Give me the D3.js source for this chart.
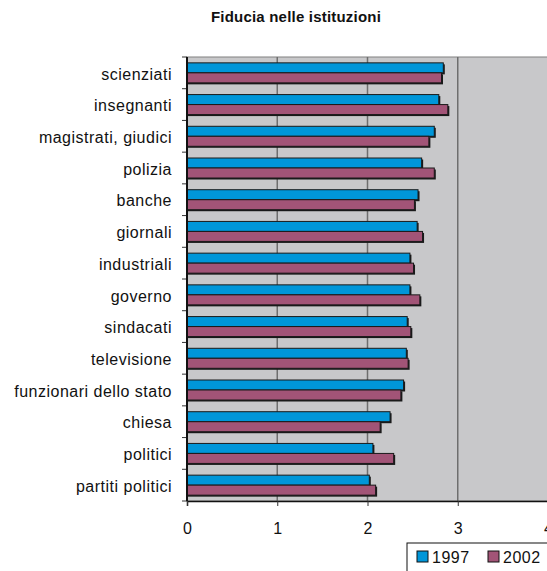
<!DOCTYPE html>
<html>
<head>
<meta charset="utf-8">
<script src="https://cdn.jsdelivr.net/npm/d3@7"></script>
<style>
  body { margin: 0; background: #fff; }
  text { font-family: "Liberation Sans", Arial, sans-serif; fill: #111; }
</style>
</head>
<body>
<script>
var categories = ['scienziati', 'insegnanti', 'magistrati, giudici', 'polizia', 'banche', 'giornali',
  'industriali ', 'governo', 'sindacati', 'televisione', 'funzionari dello stato', 'chiesa',
  'politici', 'partiti politici'];
var series = ['1997', '2002'];
var values1997 = [2.84, 2.79, 2.74, 2.60, 2.56, 2.55, 2.47, 2.47, 2.44, 2.43, 2.40, 2.25, 2.06, 2.02];
var values2002 = [2.82, 2.89, 2.68, 2.74, 2.52, 2.61, 2.51, 2.58, 2.48, 2.45, 2.37, 2.14, 2.29, 2.09];
var xTicks = [0, 1, 2, 3, 4];
var colors = ['#0096d9', '#a25477'];

var W = 547, H = 571;
var margin = { top: 57, right: -1, bottom: 70, left: 187 };
var width = W - margin.left - margin.right,
    height = H - margin.top - margin.bottom;

var svg = d3.select('body').append('svg')
  .attr('width', W)
  .attr('height', H);

svg.append('text')
  .attr('x', 296)
  .attr('y', 22)
  .attr('text-anchor', 'middle')
  .style('font-size', '15px')
  .style('font-weight', 'bold')
  .style('letter-spacing', '0.2px')
  .text('Fiducia nelle istituzioni');

var g = svg.append('g')
  .attr('transform', 'translate(' + margin.left + ',' + margin.top + ')');

var x = d3.scaleLinear().domain([0, 4]).range([0, 361]);
var y = d3.scaleBand().domain(categories).range([0, height]).paddingInner(0).paddingOuter(0);
var inner = d3.scaleBand().domain(series).range([y.bandwidth() / 2 - 10, y.bandwidth() / 2 + 10]);

g.append('rect')
  .attr('width', width + 2)
  .attr('height', height)
  .attr('fill', '#c8c8ca')
  .attr('stroke', '#808080')
  .attr('stroke-width', 1);

g.selectAll('.grid')
  .data(xTicks.slice(1))
  .enter()
  .append('line')
  .attr('class', 'grid')
  .attr('x1', function(d) { return x(d); })
  .attr('x2', function(d) { return x(d); })
  .attr('y1', 0)
  .attr('y2', height)
  .attr('stroke', '#6e6e6e')
  .attr('stroke-width', 1.5);

var rows = g.selectAll('.row')
  .data(categories)
  .enter()
  .append('g')
  .attr('class', 'row')
  .attr('transform', function(d) { return 'translate(0,' + y(d) + ')'; });

series.forEach(function(s, k) {
  var vals = k === 0 ? values1997 : values2002;
  rows.append('rect')
    .attr('x', 0)
    .attr('y', inner(s) + 1.5)
    .attr('width', function(d, i) { return x(vals[i]) + 1.5; })
    .attr('height', inner.bandwidth())
    .attr('fill', '#1a1a1a');
  rows.append('rect')
    .attr('x', 0)
    .attr('y', inner(s))
    .attr('width', function(d, i) { return x(vals[i]); })
    .attr('height', inner.bandwidth())
    .attr('fill', colors[k])
    .attr('stroke', '#1a1a1a')
    .attr('stroke-width', 1);
});

// y axis
var yAxis = d3.axisLeft(y).tickSize(0).tickPadding(15);
var ya = g.append('g').call(yAxis);
ya.select('.domain').remove();
ya.selectAll('text')
  .attr('dy', '0.42em')
  .style('font-size', '16px')
  .style('letter-spacing', '0.5px')
  .attr('fill', '#111');

g.selectAll('.ytick')
  .data(d3.range(categories.length + 1))
  .enter()
  .append('line')
  .attr('class', 'ytick')
  .attr('x1', -5)
  .attr('x2', 0)
  .attr('y1', function(i) { return i * y.step(); })
  .attr('y2', function(i) { return i * y.step(); })
  .attr('stroke', '#333')
  .attr('stroke-width', 1);

g.append('line')
  .attr('x1', 0).attr('x2', 0)
  .attr('y1', 0).attr('y2', height)
  .attr('stroke', '#111')
  .attr('stroke-width', 2);

// x axis
var xAxis = d3.axisBottom(x).tickValues(xTicks).tickFormat(d3.format('d')).tickSize(5).tickPadding(17);
var xa = g.append('g')
  .attr('transform', 'translate(0,' + height + ')')
  .call(xAxis);
xa.select('.domain').attr('stroke', '#111').attr('stroke-width', 1.5);
xa.selectAll('line').attr('stroke', '#333');
xa.selectAll('text').style('font-size', '16px').attr('fill', '#111');

// legend
var legend = svg.append('g').attr('transform', 'translate(407,543)');
legend.append('rect')
  .attr('width', 150)
  .attr('height', 40)
  .attr('fill', '#fff')
  .attr('stroke', '#111')
  .attr('stroke-width', 1);

var items = legend.selectAll('.item')
  .data(series)
  .enter()
  .append('g')
  .attr('class', 'item')
  .attr('transform', function(d, i) { return 'translate(' + (10 + i * 71) + ',8)'; });
items.append('rect')
  .attr('width', 11)
  .attr('height', 11)
  .attr('fill', function(d, i) { return colors[i]; })
  .attr('stroke', '#111')
  .attr('stroke-width', 1);
items.append('text')
  .attr('x', 15)
  .attr('y', 12)
  .style('font-size', '16px')
  .style('letter-spacing', '0.5px')
  .text(function(d) { return d; });
</script>
</body>
</html>
